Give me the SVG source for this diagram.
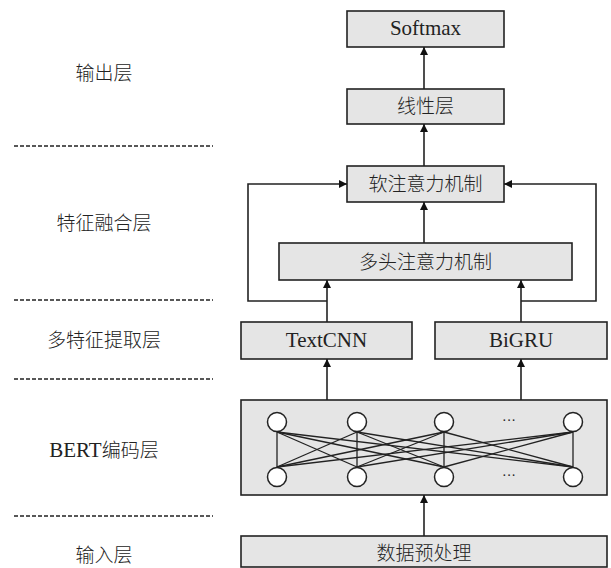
<svg xmlns="http://www.w3.org/2000/svg" width="611" height="568" viewBox="0 0 611 568">
<style>
.box{fill:#e5e5e5;stroke:#222;stroke-width:1.6}
.t{font-family:"Liberation Serif","Noto Sans CJK SC",serif;font-size:19px;font-weight:300;fill:#222;text-anchor:middle;dominant-baseline:central}
.lat{font-size:21px;font-weight:400}
.lbl{font-family:"Liberation Serif","Noto Sans CJK SC",serif;font-size:19px;font-weight:300;fill:#222;text-anchor:middle;dominant-baseline:central}
.dash{stroke:#222;stroke-width:1.3;stroke-dasharray:4 2;fill:none}
.c{fill:none;stroke:#222;stroke-width:1.6}
.n{fill:#fff;stroke:#222;stroke-width:1.5}
.e{stroke:#222;stroke-width:1.3}
.dots{font-family:"Liberation Serif",serif;font-size:14px;fill:#222;text-anchor:middle;dominant-baseline:central}
</style>
<defs>
<marker id="ah" viewBox="0 0 10 10" refX="10" refY="5" markerWidth="8" markerHeight="8" markerUnits="userSpaceOnUse" orient="auto">
<path d="M0,0 L10,5 L0,10 z" fill="#111"/>
</marker>
</defs>
<g id="layers">
<text class="lbl" x="104" y="73">输出层</text>
<line class="dash" x1="14" y1="146" x2="213" y2="146"/>
<text class="lbl" x="104" y="223">特征融合层</text>
<line class="dash" x1="14" y1="300" x2="213" y2="300"/>
<text class="lbl" x="104" y="340">多特征提取层</text>
<line class="dash" x1="14" y1="379" x2="213" y2="379"/>
<text class="lbl" x="104" y="450"><tspan class="lat">BERT</tspan>编码层</text>
<line class="dash" x1="14" y1="516" x2="213" y2="516"/>
<text class="lbl" x="104" y="555">输入层</text>
</g>
<g id="softmax"><rect class="box" x="347" y="11" width="157" height="36"/><text class="t lat" x="425.5" y="28">Softmax</text></g>
<g id="linear"><rect class="box" x="347" y="89" width="157" height="35"/><text class="t" x="425.5" y="106">线性层</text></g>
<g id="soft-attn"><rect class="box" x="347" y="166" width="157" height="36"/><text class="t" x="425.5" y="184">软注意力机制</text></g>
<g id="mh-attn"><rect class="box" x="279" y="243" width="293" height="37"/><text class="t" x="425.5" y="262">多头注意力机制</text></g>
<g id="textcnn"><rect class="box" x="241" y="322" width="171" height="37"/><text class="t lat" x="326.5" y="340">TextCNN</text></g>
<g id="bigru"><rect class="box" x="435" y="322" width="172" height="37"/><text class="t lat" x="521" y="340">BiGRU</text></g>
<g id="bert">
<rect class="box" x="241" y="400" width="366" height="95"/>
<g class="edges">
<line class="e" x1="277" y1="432" x2="277" y2="467"/>
<line class="e" x1="277" y1="432" x2="357" y2="467"/>
<line class="e" x1="277" y1="432" x2="444" y2="467"/>
<line class="e" x1="277" y1="432" x2="573" y2="467"/>
<line class="e" x1="357" y1="432" x2="277" y2="467"/>
<line class="e" x1="357" y1="432" x2="357" y2="467"/>
<line class="e" x1="357" y1="432" x2="444" y2="467"/>
<line class="e" x1="357" y1="432" x2="573" y2="467"/>
<line class="e" x1="444" y1="432" x2="277" y2="467"/>
<line class="e" x1="444" y1="432" x2="357" y2="467"/>
<line class="e" x1="444" y1="432" x2="444" y2="467"/>
<line class="e" x1="444" y1="432" x2="573" y2="467"/>
<line class="e" x1="573" y1="432" x2="277" y2="467"/>
<line class="e" x1="573" y1="432" x2="357" y2="467"/>
<line class="e" x1="573" y1="432" x2="444" y2="467"/>
<line class="e" x1="573" y1="432" x2="573" y2="467"/>
</g>
<circle class="n" cx="277" cy="422" r="9.5"/>
<circle class="n" cx="357" cy="422" r="9.5"/>
<circle class="n" cx="444" cy="422" r="9.5"/>
<circle class="n" cx="573" cy="422" r="9.5"/>
<circle class="n" cx="277" cy="477" r="9.5"/>
<circle class="n" cx="357" cy="477" r="9.5"/>
<circle class="n" cx="444" cy="477" r="9.5"/>
<circle class="n" cx="573" cy="477" r="9.5"/>
<text class="dots" x="509" y="420">···</text>
<text class="dots" x="509" y="475">···</text>
</g>
<g id="preprocess"><rect class="box" x="241" y="536" width="366" height="31"/><text class="t" x="424" y="553">数据预处理</text></g>
<g id="connectors">
<line class="c" x1="424" y1="89" x2="424" y2="47" marker-end="url(#ah)"/>
<line class="c" x1="424" y1="166" x2="424" y2="124" marker-end="url(#ah)"/>
<line class="c" x1="424" y1="243" x2="424" y2="202" marker-end="url(#ah)"/>
<line class="c" x1="327" y1="322" x2="327" y2="280" marker-end="url(#ah)"/>
<line class="c" x1="521" y1="322" x2="521" y2="280" marker-end="url(#ah)"/>
<polyline class="c" points="327,301 248,301 248,184 347,184" marker-end="url(#ah)"/>
<polyline class="c" points="521,301 596,301 596,184 504,184" marker-end="url(#ah)"/>
<line class="c" x1="327" y1="400" x2="327" y2="359" marker-end="url(#ah)"/>
<line class="c" x1="521" y1="400" x2="521" y2="359" marker-end="url(#ah)"/>
<line class="c" x1="424" y1="536" x2="424" y2="495" marker-end="url(#ah)"/>
</g>
</svg>
